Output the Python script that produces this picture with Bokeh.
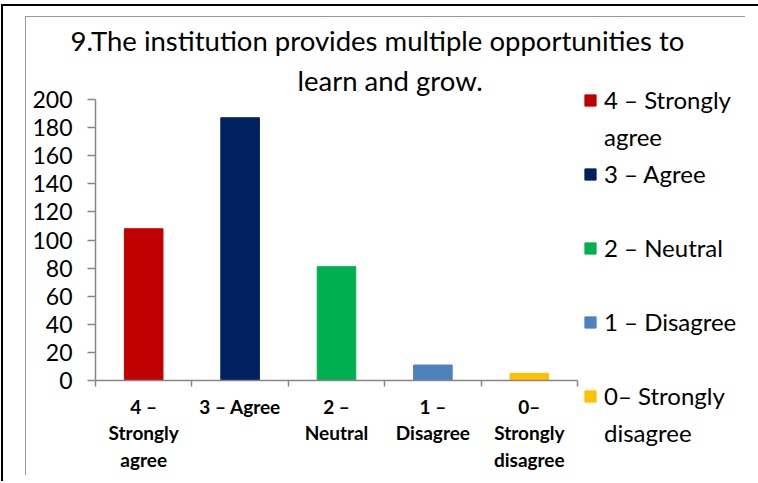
from bokeh.plotting import figure
from bokeh.models import (ColumnDataSource, FixedTicker, Range1d, Legend,
                          LegendItem, LinearAxis, Title)
from bokeh.embed import file_html
from bokeh.resources import INLINE

# ---- data ----
categories = ["4 –\nStrongly\nagree", "3 – Agree", "2 –\nNeutral", "1 –\nDisagree", "0–\nStrongly\ndisagree"]
legend_labels = ["4 – Strongly\nagree", "3 – Agree", "2 – Neutral", "1 – Disagree", "0– Strongly\ndisagree"]
counts = [108, 187, 81, 11, 5]
colors = ["#C00000", "#002060", "#00B050", "#4F81BD", "#FFC000"]
y_ticks = [0, 20, 40, 60, 80, 100, 120, 140, 160, 180, 200]
title_lines = ["9.The institution provides multiple opportunities to", "learn and grow."]

# ---- layout (pixel positions in the picture) ----
W, H = 756, 481
FL, FR, FT, FB = 95, 577, 99, 380
AXIS_GRAY = "#868686"
n = len(categories)

p = figure(frame_width=FR - FL, frame_height=FB - FT, title=None,
           output_backend="svg", toolbar_location=None,
           x_range=Range1d(0, n), y_range=Range1d(0, y_ticks[-1]),
           min_border_left=FL, min_border_right=W - FR,
           min_border_top=FT, min_border_bottom=H - FB,
           x_axis_type=None, y_axis_type=None)
p.outline_line_color = None
p.background_fill_color = "white"
p.border_fill_color = None

# chart-area borders (black outer, gray inner) painted behind the transparent canvas
p.styles = {
    "background-color": "white",
    "background-image": ("linear-gradient(#000,#000), linear-gradient(#000,#000), "
                         "linear-gradient(#999,#999), linear-gradient(#999,#999)"),
    "background-position": "1px 4px, 1px 4px, 25px 16px, 25px 16px",
    "background-size": "2px 600px, 800px 2px, 1px 459px, 720px 1px",
    "background-repeat": "no-repeat",
}

src = ColumnDataSource(dict(x=[i + 0.5 for i in range(n)], top=counts, color=colors))
r = p.vbar(x="x", top="top", width=0.4, color="color", source=src)
# invisible renderer used for legend rows that only continue a label onto a new line
blank = p.vbar(x=[], top=[], width=0.4, fill_alpha=0, line_alpha=0)

yaxis = LinearAxis(ticker=FixedTicker(ticks=y_ticks),
                   axis_line_color=AXIS_GRAY, axis_line_width=1.5,
                   major_tick_line_color=AXIS_GRAY, major_tick_line_width=1.5,
                   major_tick_in=0, major_tick_out=8,
                   minor_tick_line_color=None,
                   major_label_text_font="Lato", major_label_text_font_size="23px",
                   major_label_text_color="black", major_label_standoff=15)
p.add_layout(yaxis, "left")

xaxis = LinearAxis(ticker=FixedTicker(ticks=[i + 0.5 for i in range(n)],
                                      minor_ticks=list(range(n + 1))),
                   major_label_overrides={i + 0.5: c for i, c in enumerate(categories)},
                   axis_line_color=AXIS_GRAY, axis_line_width=1.5,
                   major_tick_line_color=None,
                   minor_tick_line_color=AXIS_GRAY, minor_tick_line_width=1.5,
                   minor_tick_in=0, minor_tick_out=6,
                   major_label_text_font="Lato", major_label_text_font_size="19px",
                   major_label_text_font_style="bold", major_label_text_color="black",
                   major_label_text_line_height=1.17, major_label_standoff=8)
p.add_layout(xaxis, "below")

# legend laid out on an even row grid: every entry takes two rows (swatch row + continuation row)
items = []
for i, lab in enumerate(legend_labels):
    first, _, rest = lab.partition("\n")
    items.append(LegendItem(label=first, renderers=[r], index=i))
    if i < len(legend_labels) - 1 or rest:
        items.append(LegendItem(label=rest if rest else " ", renderers=[blank]))
legend = Legend(items=items, location=(6, -67), glyph_width=14, glyph_height=14,
                label_height=29, label_standoff=7, padding=0, margin=0, spacing=8,
                border_line_color=None, background_fill_alpha=0,
                label_text_font="Lato", label_text_font_size="24px",
                label_text_color="black")
p.add_layout(legend, "right")

# two-line title, each line centred as in the original
p.add_layout(Title(text=title_lines[1], align="left", offset=202, standoff=6,
                   text_font="Lato", text_font_size="27.5px", text_font_style="normal",
                   text_color="black", text_line_height=1.0), "above")
p.add_layout(Title(text=title_lines[0], align="left", offset=-25, standoff=3,
                   text_font="Lato", text_font_size="27.5px", text_font_style="normal",
                   text_color="black", text_line_height=1.0), "above")

open("out.html", "w").write(file_html(p, INLINE))
